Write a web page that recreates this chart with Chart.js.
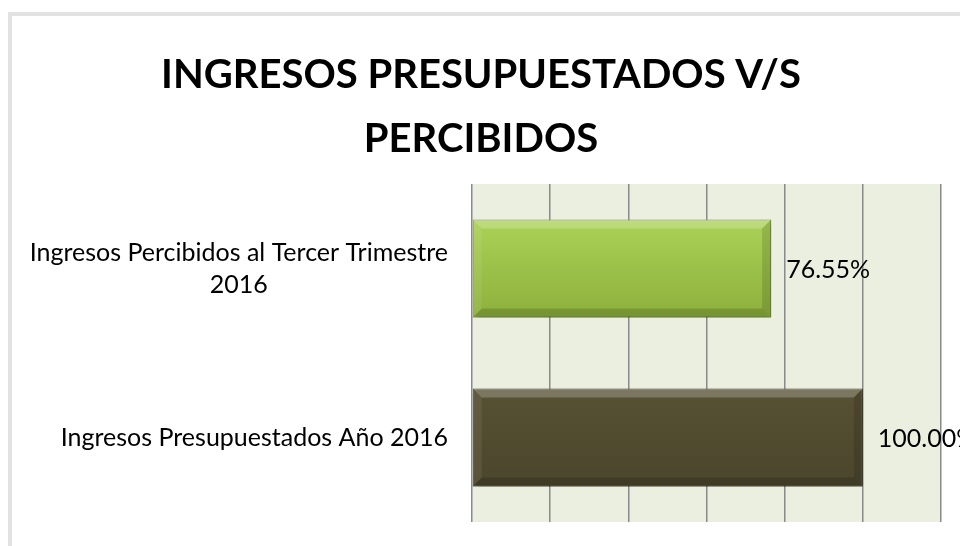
<!DOCTYPE html>
<html>
<head>
<meta charset="utf-8">
<script src="https://cdn.jsdelivr.net/npm/chart.js@4.4.1/dist/chart.umd.min.js"></script>
<style>
  html, body { margin: 0; padding: 0; background: #fff; }
  #wrap { width: 960px; height: 546px; position: relative; }
</style>
</head>
<body>
<div id="wrap"><canvas id="chart" width="960" height="546"></canvas></div>
<script>
// data
const titleLines = ['INGRESOS PRESUPUESTADOS V/S', 'PERCIBIDOS']
const categories = [
  ['Ingresos Percibidos al Tercer Trimestre', '2016'],
  ['Ingresos Presupuestados Año 2016']
]
const values = [76.55, 100.00]
const barColors = [['#abd257', '#8db03c'], ['#575134', '#4b462c']]
const borderColors = ['#7c9c38', '#3b3722']

const FONT = 'Lato, "Open Sans", sans-serif'
const barPct = 0.58

// background frame, plot area fill, bevels and texts
const backdrop = {
  id: 'backdrop',
  beforeDraw(chart) {
    const {ctx, chartArea: a} = chart
    ctx.save()
    ctx.fillStyle = '#e2e2e2'
    ctx.fillRect(8, 12, 952, 4)
    ctx.fillRect(8, 12, 4, 534)
    ctx.fillStyle = '#ebefdf'
    ctx.fillRect(a.left, a.top, a.right - a.left, a.bottom - a.top)
    ctx.restore()
  },
  beforeDatasetsDraw(chart) {
    const ctx = chart.ctx
    ctx.save()
    ctx.shadowColor = 'rgba(0,0,0,0.35)'
    ctx.shadowBlur = 7
    ctx.shadowOffsetX = 2
    ctx.shadowOffsetY = 3
  },
  afterDatasetsDraw(chart) {
    const ctx = chart.ctx
    ctx.restore()
    const meta = chart.getDatasetMeta(0)
    meta.data.forEach((bar) => {
      const l = bar.base, r = bar.x
      const t = bar.y - bar.height / 2, b = bar.y + bar.height / 2
      const s = 9
      const quad = (pts, col) => {
        ctx.beginPath()
        ctx.moveTo(pts[0][0], pts[0][1])
        pts.slice(1).forEach(p => ctx.lineTo(p[0], p[1]))
        ctx.closePath()
        ctx.fillStyle = col
        ctx.fill()
      }
      ctx.save()
      quad([[l, t], [r, t], [r - s, t + s], [l + s, t + s]], 'rgba(255,255,255,0.22)')
      quad([[l, b], [r, b], [r - s, b - s], [l + s, b - s]], 'rgba(0,0,0,0.16)')
      quad([[l, t], [l + s, t + s], [l + s, b - s], [l, b]], 'rgba(255,255,255,0.07)')
      quad([[r, t], [r - s, t + s], [r - s, b - s], [r, b]], 'rgba(0,0,0,0.13)')
      ctx.restore()
    })
  },
  afterDraw(chart) {
    const {ctx} = chart
    const yScale = chart.scales.y
    const meta = chart.getDatasetMeta(0)
    ctx.save()
    ctx.fillStyle = '#000'
    // title
    ctx.font = 'bold 40px ' + FONT
    ctx.textAlign = 'center'
    ctx.textBaseline = 'middle'
    titleLines.forEach((t, i) => ctx.fillText(t, 481, 75 + i * 64))
    // category labels: block right aligned, lines centered inside it
    ctx.font = '25px ' + FONT
    const right = chart.chartArea.left - 24
    categories.forEach((lines, i) => {
      const w = Math.max(...lines.map(s => ctx.measureText(s).width))
      const cy = yScale.getPixelForValue(i)
      const lh = 32
      lines.forEach((s, j) => {
        ctx.fillText(s, right - w / 2, cy + (j - (lines.length - 1) / 2) * lh)
      })
    })
    // value labels
    ctx.textAlign = 'left'
    meta.data.forEach((bar, i) => {
      ctx.fillText(values[i].toFixed(2) + '%', bar.x + 15, bar.y + 1)
    })
    ctx.restore()
  }
}

new Chart(document.getElementById('chart'), {
  type: 'bar',
  data: {
    labels: categories,
    datasets: [{
      data: values,
      backgroundColor: (c) => {
        const chart = c.chart
        const y = chart.scales.y
        const cols = barColors[c.dataIndex]
        if (!y || !chart.chartArea) return cols[0]
        const cy = y.getPixelForValue(c.dataIndex)
        const h = (y.height / categories.length) * barPct / 2
        const g = chart.ctx.createLinearGradient(0, cy - h, 0, cy + h)
        g.addColorStop(0, cols[0])
        g.addColorStop(1, cols[1])
        return g
      },
      borderColor: borderColors,
      borderWidth: 1,
      borderSkipped: false,
      barPercentage: barPct,
      categoryPercentage: 1
    }]
  },
  options: {
    indexAxis: 'y',
    responsive: false,
    animation: false,
    events: [],
    layout: { padding: { left: 472, top: 184, right: 19, bottom: 24 } },
    plugins: { legend: { display: false }, tooltip: { enabled: false } },
    scales: {
      x: {
        min: 0, max: 120,
        ticks: { display: false, stepSize: 20 },
        grid: { color: '#8a8a8a', lineWidth: 1.5, drawTicks: false },
        border: { display: false }
      },
      y: { display: false }
    }
  },
  plugins: [backdrop]
})
</script>
</body>
</html>
